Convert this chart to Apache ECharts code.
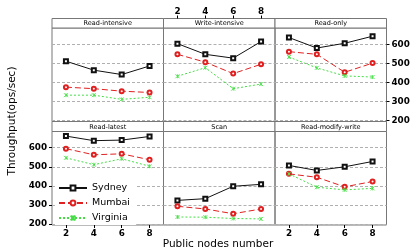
<!DOCTYPE html>
<html><head><meta charset="utf-8">
<script src="https://cdn.jsdelivr.net/npm/echarts@6/dist/echarts.min.js"></script>
<style>html,body{margin:0;padding:0;background:#fff}#c{width:415px;height:251px}</style>
</head><body><div id="c"></div>
<script>
var nodes = [2, 4, 6, 8];
var yTicks = [200, 300, 400, 500, 600];
var panelTitles = ['Read-intensive', 'Write-intensive', 'Read-only', 'Read-latest', 'Scan', 'Read-modify-write'];
var cities = ['Sydney', 'Mumbai', 'Virginia'];
var readIntensive   = [[511,464,441,486],[375,367,354,347],[333,333,311,322]];
var writeIntensive  = [[603,547,527,614],[547,506,446,495],[432,477,367,391]];
var readOnly        = [[635,580,605,642],[561,547,453,501],[533,476,434,428]];
var readLatest      = [[661,637,640,659],[595,563,568,537],[547,511,542,503]];
var scan            = [[324,333,398,408],[293,279,254,279],[237,236,229,227]];
var readModifyWrite = [[507,481,500,528],[463,445,395,423],[463,393,379,387]];
var panelData = [readIntensive, writeIntensive, readOnly, readLatest, scan, readModifyWrite];

var colLeft = [52, 163.5, 275], colW = 111.5;
var stripTop = [18.5, 121.5], plotTop = [28, 131.5], plotH = [93.5, 93.5];
var styles = [
  {color:'#111111', type:'solid', symbol:'emptyRect'},
  {color:'#e02020', type:[6,3], symbol:'emptyCircle'},
  {color:'#44dd44', type:[2,2], symbol:'path://M0,0L10,10M10,0L0,10M5,0L5,10'}
];
var tickFont = {fontFamily:'DejaVu Sans', fontWeight:'bold', fontSize:8.8, color:'#000'};
var grids=[], xAxes=[], yAxes=[], series=[], graphics=[];
for (var p=0;p<6;p++){
  var r=Math.floor(p/3), c=p%3;
  grids.push({left:colLeft[c], top:plotTop[r], width:colW, height:plotH[r], show:true, borderColor:'#777', borderWidth:1, backgroundColor:'transparent'});
  var showTop = (r===0 && c===1), showBottom = (r===1 && c!==1);
  xAxes.push({gridIndex:p, type:'value', min:1, max:9, position: showTop?'top':'bottom', offset: showTop?9.5:0,
    axisLine:{show:false}, splitLine:{show:false},
    axisTick:{show: showTop||showBottom, length:3, customValues:nodes, lineStyle:{color:'#000'}},
    axisLabel:Object.assign({show: showTop||showBottom, margin: showTop?2:4, customValues:nodes}, tickFont)});
  var showLeft = (r===1 && c===0), showRight = (r===0 && c===2);
  yAxes.push({gridIndex:p, type:'value', min:195, max:685, position: showRight?'right':'left',
    axisLine:{show:false},
    axisTick:{show: showLeft||showRight, length:3, customValues:yTicks, lineStyle:{color:'#000'}},
    axisLabel:Object.assign({show: showLeft||showRight, margin:5, customValues:yTicks}, tickFont),
    splitLine:{show:true, lineStyle:{color:'#b0b0b0', type:[3,2], width:1}}});
  graphics.push({type:'rect', shape:{x:colLeft[c], y:stripTop[r], width:colW, height:plotTop[r]-stripTop[r]}, style:{fill:'#fff', stroke:'#777', lineWidth:1}});
  graphics.push({type:'text', x:colLeft[c]+colW/2, y:stripTop[r]+(plotTop[r]-stripTop[r])/2+0.5, style:{text:panelTitles[p], fontFamily:'DejaVu Sans', fontSize:6.5, fill:'#000', align:'center', verticalAlign:'middle'}});
  for (var s=0;s<3;s++){
    var d = nodes.map(function(n,i){return [n, panelData[p][s][i]];});
    series.push({name:cities[s], type:'line', xAxisIndex:p, yAxisIndex:p, data:d, symbol:styles[s].symbol, symbolSize:4, showSymbol:true,
      lineStyle:{color:styles[s].color, type:styles[s].type, width:1},
      itemStyle:{color:styles[s].color, borderColor:styles[s].color, borderWidth:0.8},
      animation:false, z:3});
  }
}
graphics.push({type:'text', x:12, y:121, rotation:Math.PI/2, style:{text:'Throughput(ops/sec)', fontFamily:'DejaVu Sans', fontSize:10.5, fill:'#000', align:'center', verticalAlign:'middle'}});
graphics.push({type:'text', x:218, y:244, style:{text:'Public nodes number', fontFamily:'DejaVu Sans', fontSize:10.5, fill:'#000', align:'center', verticalAlign:'middle'}});
var chart = echarts.init(document.getElementById('c'), null, {renderer:'canvas'});
chart.setOption({
  animation:false,
  grid:grids, xAxis:xAxes, yAxis:yAxes, series:series, graphic:graphics,
  legend:{data:cities, orient:'vertical', left:55, top:181, itemWidth:28, itemHeight:6, itemGap:5,
    padding:[2,6,2,3], backgroundColor:'#fff', textStyle:{fontFamily:'DejaVu Sans', fontSize:9.5, color:'#000', lineHeight:9}}
});
</script></body></html>
